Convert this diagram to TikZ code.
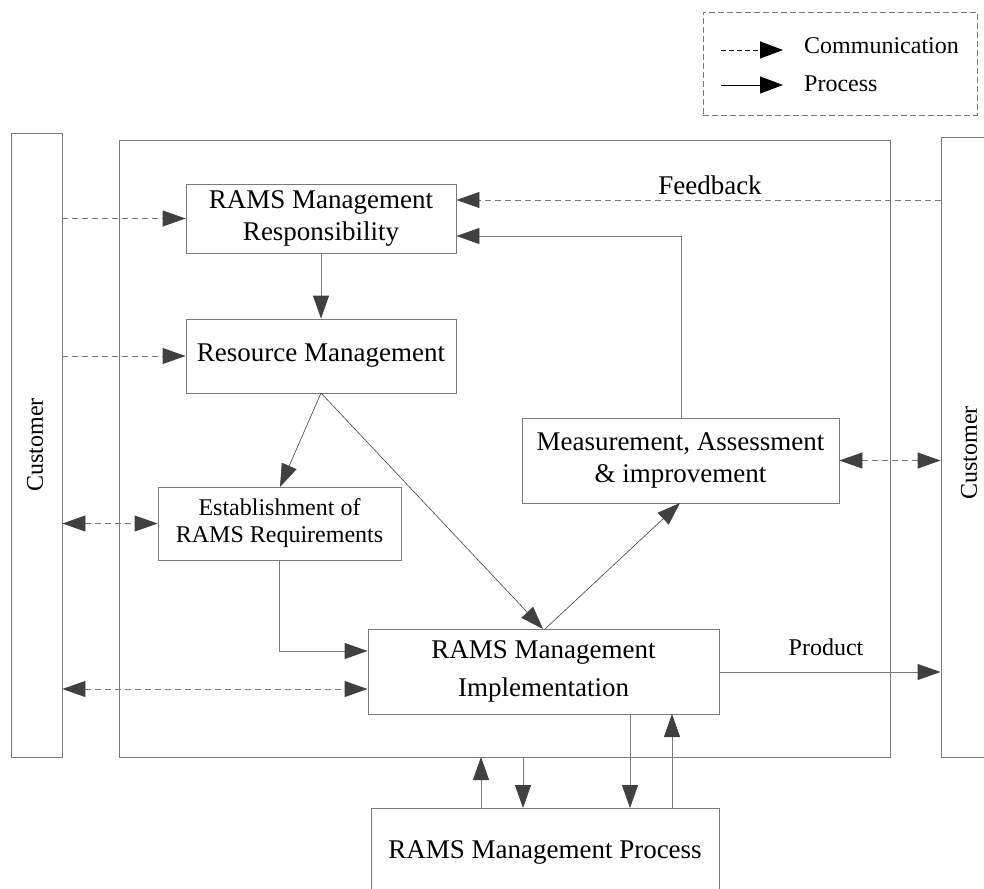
\documentclass[tikz,border=0pt]{standalone}
\usepackage{fontspec}
\setmainfont{Liberation Serif}
\usetikzlibrary{arrows.meta}

\definecolor{linegray}{HTML}{7A7A7A}
\definecolor{headgray}{HTML}{404040}

\tikzset{
  >={Triangle[length=23pt,width=16pt,color=headgray]},
  box/.style={draw=linegray, line width=0.9pt, fill=white, align=center, inner sep=0pt,
    font=\fontsize{27}{32}\selectfont},
  smallbox/.style={box, font=\fontsize{24}{27}\selectfont},
  flow/.style={draw=linegray, line width=0.9pt, ->},
  flowboth/.style={draw=linegray, line width=0.9pt, <->},
  comm/.style={flow, dash pattern=on 6pt off 4pt},
  commboth/.style={flowboth, dash pattern=on 6pt off 4pt},
  diag/.style={flow, draw=black!75, line width=0.6pt},
  lbl/.style={font=\fontsize{24}{27}\selectfont, inner sep=0pt},
  legtip/.style={black, line width=0.8pt, -{Triangle[length=23pt,width=17pt,color=black]}},
}

\begin{document}
\begin{tikzpicture}[x=1pt, y=-1pt]
  \useasboundingbox (0,0) rectangle (984,888);
  \clip (0,0) rectangle (984,888);

  % legend
  \node[draw=linegray, dash pattern=on 6pt off 3pt, line width=0.8pt, minimum width=274pt,
    minimum height=103pt, inner sep=0pt] (legend) at (840,63.5) {};
  \coordinate (lc1) at (721,50);
  \coordinate (lc2) at (783,50);
  \coordinate (lp1) at (721,85);
  \coordinate (lp2) at (783,85);
  \draw[legtip, dash pattern=on 5pt off 3pt] (lc1) -- (lc2);
  \draw[legtip] (lp1) -- (lp2);
  \node[lbl, anchor=west] (lcomm) at (804,46) {Communication};
  \node[lbl, anchor=west] (lproc) at (804,84) {Process};

  % customers and organisation frame
  \node[draw=linegray, line width=0.9pt, minimum width=51pt, minimum height=624pt, inner sep=0pt]
    (custL) at (36.5,445) {};
  \node[draw=linegray, line width=0.9pt, minimum width=56pt, minimum height=620pt, inner sep=0pt]
    (custR) at (969,447) {};
  \node[lbl, rotate=90] (custLt) at (35,445) {Customer};
  \node[lbl, rotate=90] (custRt) at (969,453) {Customer};
  \node[draw=linegray, line width=0.9pt, minimum width=771pt, minimum height=617pt, inner sep=0pt]
    (frame) at (504.5,448.5) {};

  % process boxes
  \node[box, minimum width=270pt, minimum height=69pt] (resp) at (321,218.5)
    {RAMS Management\\Responsibility};
  \node[box, minimum width=270pt, minimum height=74pt] (res) at (321,356)
    {Resource Management};
  \node[smallbox, minimum width=243pt, minimum height=73pt] (est) at (279.5,523.5)
    {Establishment of\\RAMS Requirements};
  \node[box, minimum width=317pt, minimum height=85pt] (meas) at (680.5,460.5)
    {Measurement, Assessment\\\& improvement};
  \node[box, minimum width=351pt, minimum height=85pt,
    font=\fontsize{27}{38}\selectfont] (impl) at (543.5,671.5)
    {RAMS Management\\Implementation};
  \node[box, minimum width=348pt, minimum height=88pt] (proc) at (545,852)
    {RAMS Management Process};

  % communication with the customers
  \draw[comm] (custL.east |- resp.west) -- (resp.west);
  \draw[comm] (custL.east |- res.west) -- (res.west);
  \draw[commboth] (custL.east |- est.west) -- (est.west);
  \draw[commboth] (custL.east |- 0,689) -- (impl.west |- 0,689);
  \draw[comm] (custR.west |- 0,200) -- (resp.east |- 0,200);
  \node[inner sep=0pt, font=\fontsize{27}{32}\selectfont] (fb) at (710,185) {Feedback};
  \draw[commboth] (meas.east) -- (custR.west |- meas.east);

  % process flow
  \draw[flow] (resp.south) -- (res.north);
  \coordinate (apex) at (321,393);
  \draw[diag] (apex) -- (280,487);
  \draw[diag] (apex) -- (543,629);
  \draw[diag] (545,629) -- (680,503);
  \draw[flow] (681,418) -- (681,236) -- (resp.east |- 0,236);
  \draw[flow] (279,560) -- (279,651) -- (impl.west |- 0,651);
  \draw[flow] (impl.east |- 0,672) -- (custR.west |- 0,672);
  \node[lbl] (prod) at (826,647) {Product};

  % exchange with the RAMS management process
  \draw[flow] (481,808) -- (481,757);
  \draw[flow] (523,757) -- (523,808);
  \draw[flow] (630,714) -- (630,808);
  \draw[flow] (672,808) -- (672,714);
\end{tikzpicture}
\end{document}
